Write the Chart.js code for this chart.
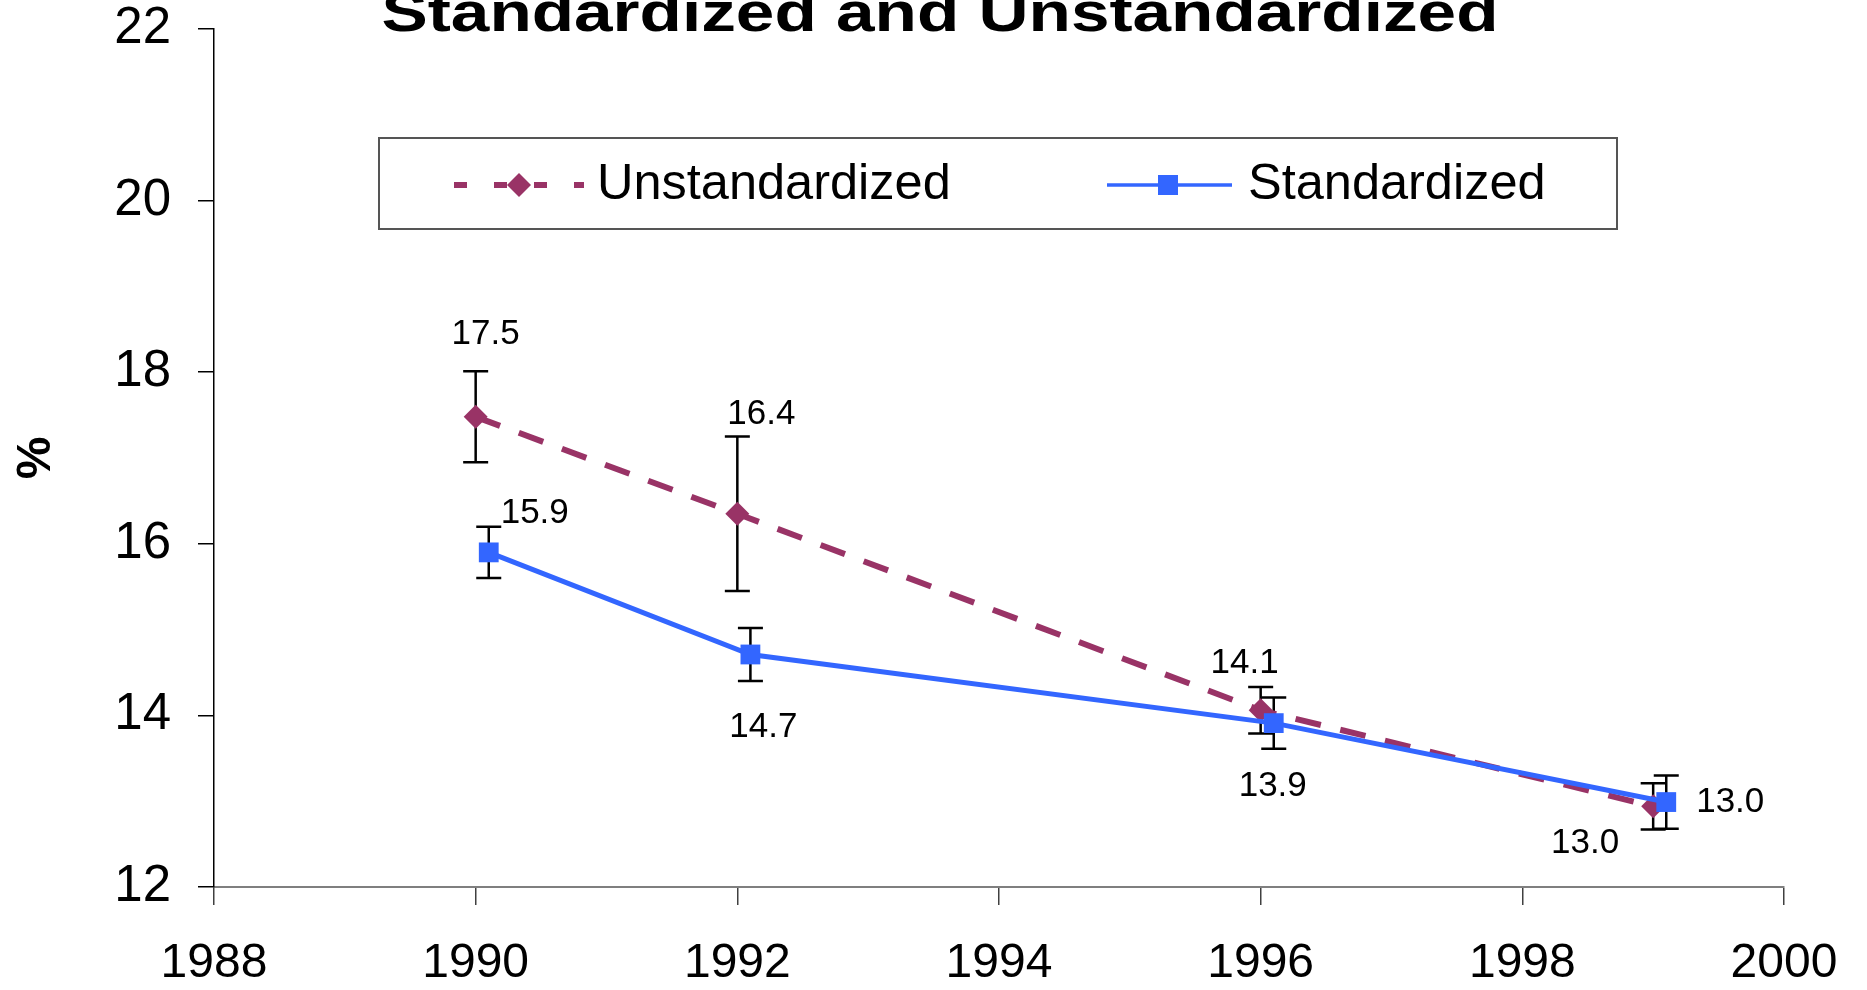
<!DOCTYPE html>
<html lang="en">
<head>
  <meta charset="UTF-8" />
  <title>Standardized and Unstandardized</title>
  <script src="https://cdn.jsdelivr.net/npm/chart.js"></script>
  <style>
    html, body { margin: 0; padding: 0; background: #fff; }
    #wrap { width: 1867px; height: 990px; }
  </style>
</head>
<body>
  <div id="wrap"><canvas id="rateChart" width="1867" height="990"></canvas></div>

  <script>
    // values
    const unstdYears = [1990, 1992, 1996, 1999];
    const unstdValues = [17.48, 16.35, 14.06, 12.94];
    const unstdErrors = [0.53, 0.9, 0.27, 0.27];
    const unstdLabels = ['17.5', '16.4', '14.1', '13.0'];

    const stdYears = [1990.1, 1992.1, 1996.1, 1999.1];
    const stdValues = [15.9, 14.71, 13.91, 12.99];
    const stdErrors = [0.3, 0.31, 0.3, 0.31];
    const stdLabels = ['15.9', '14.7', '13.9', '13.0'];

    const xTicks = [1988, 1990, 1992, 1994, 1996, 1998, 2000];
    const yTicks = [12, 14, 16, 18, 20, 22];

    const FONT = "'Liberation Sans', Arial, sans-serif";
    const UNSTD_COLOR = '#993366';
    const STD_COLOR = '#3366FF';

    // where each data label sits relative to its point (px)
    const unstdLabelOffsets = [[10, -82], [24, -99], [-16, -47], [-68, 37]];
    const stdLabelOffsets = [[46, -39], [13, 73], [-1, 63], [64, 0]];

    const seriesInfo = [
      { years: stdYears, values: stdValues, errors: stdErrors, labels: stdLabels, offsets: stdLabelOffsets },
      { years: unstdYears, values: unstdValues, errors: unstdErrors, labels: unstdLabels, offsets: unstdLabelOffsets }
    ];

    const errorBars = {
      id: 'errorBars',
      beforeDatasetsDraw(chart) {
        const { ctx, scales: { x, y } } = chart;
        ctx.save();
        ctx.strokeStyle = '#000';
        ctx.lineWidth = 2.5;
        seriesInfo.forEach(s => {
          s.years.forEach((yr, i) => {
            const px = x.getPixelForValue(yr);
            const top = y.getPixelForValue(s.values[i] + s.errors[i]);
            const bot = y.getPixelForValue(s.values[i] - s.errors[i]);
            ctx.beginPath();
            ctx.moveTo(px, top); ctx.lineTo(px, bot);
            ctx.moveTo(px - 12.5, top); ctx.lineTo(px + 12.5, top);
            ctx.moveTo(px - 12.5, bot); ctx.lineTo(px + 12.5, bot);
            ctx.stroke();
          });
        });
        ctx.restore();
      }
    };

    const dataLabels = {
      id: 'dataLabels',
      afterDatasetsDraw(chart) {
        const { ctx, scales: { x, y } } = chart;
        ctx.save();
        ctx.fillStyle = '#000';
        ctx.font = `35px ${FONT}`;
        ctx.textAlign = 'center';
        ctx.textBaseline = 'middle';
        seriesInfo.forEach(s => {
          s.years.forEach((yr, i) => {
            const px = x.getPixelForValue(yr) + s.offsets[i][0];
            const py = y.getPixelForValue(s.values[i]) + s.offsets[i][1];
            ctx.fillText(s.labels[i], px, py);
          });
        });
        ctx.restore();
      }
    };

    const titleAndLegend = {
      id: 'titleAndLegend',
      afterDraw(chart) {
        const ctx = chart.ctx;
        ctx.save();

        // title, partly cut off at the top like the original
        ctx.font = `bold 56px ${FONT}`;
        ctx.fillStyle = '#000';
        ctx.textBaseline = 'alphabetic';
        ctx.textAlign = 'center';
        const text = 'Standardized and Unstandardized';
        const sx = 1117 / ctx.measureText(text).width;
        ctx.save();
        ctx.translate(940, 31);
        ctx.scale(sx, 1);
        ctx.fillText(text, 0, 0);
        ctx.restore();

        // legend box
        ctx.strokeStyle = '#555';
        ctx.lineWidth = 2;
        ctx.strokeRect(379, 138, 1238, 91);

        const ly = 185;
        ctx.strokeStyle = UNSTD_COLOR;
        ctx.lineWidth = 6;
        ctx.setLineDash([13, 27]);
        ctx.beginPath(); ctx.moveTo(454, ly); ctx.lineTo(584, ly); ctx.stroke();
        ctx.setLineDash([]);
        ctx.fillStyle = UNSTD_COLOR;
        ctx.beginPath();
        ctx.moveTo(519 - 12, ly); ctx.lineTo(519, ly - 12);
        ctx.lineTo(519 + 12, ly); ctx.lineTo(519, ly + 12);
        ctx.closePath(); ctx.fill();

        ctx.strokeStyle = STD_COLOR;
        ctx.lineWidth = 3.5;
        ctx.beginPath(); ctx.moveTo(1107, ly); ctx.lineTo(1232, ly); ctx.stroke();
        ctx.fillStyle = STD_COLOR;
        ctx.fillRect(1168 - 10, ly - 10, 20, 20);

        ctx.fillStyle = '#000';
        ctx.font = `50.5px ${FONT}`;
        ctx.textAlign = 'left';
        ctx.textBaseline = 'middle';
        ctx.fillText('Unstandardized', 597, ly);
        ctx.fillText('Standardized', 1248, ly);
        ctx.restore();
      }
    };

    const ctx = document.getElementById('rateChart').getContext('2d');
    new Chart(ctx, {
      type: 'line',
      data: {
        datasets: [
          {
            label: 'Standardized',
            data: stdYears.map((yr, i) => ({ x: yr, y: stdValues[i] })),
            borderColor: STD_COLOR,
            backgroundColor: STD_COLOR,
            borderWidth: 5,
            pointStyle: 'rect',
            pointRadius: 14,
            pointBorderWidth: 0,
            tension: 0
          },
          {
            label: 'Unstandardized',
            data: unstdYears.map((yr, i) => ({ x: yr, y: unstdValues[i] })),
            borderColor: UNSTD_COLOR,
            backgroundColor: UNSTD_COLOR,
            borderWidth: 6,
            borderDash: [26, 20],
            pointStyle: 'rectRot',
            pointRadius: 12,
            pointBorderWidth: 0,
            tension: 0
          }
        ]
      },
      options: {
        responsive: false,
        animation: false,
        layout: { padding: { top: 29, right: 83, left: 0, bottom: 0 } },
        plugins: {
          legend: { display: false },
          tooltip: { enabled: false }
        },
        scales: {
          x: {
            type: 'linear',
            min: 1988,
            max: 2000,
            afterBuildTicks: s => { s.ticks = xTicks.map(v => ({ value: v })); },
            afterFit: s => { s.height = 103; s.paddingLeft = 0; s.paddingRight = 0; },
            grid: { drawOnChartArea: false, tickLength: 18, color: '#404040', lineWidth: 1.5 },
            border: { color: '#7f7f7f', width: 2 },
            ticks: {
              color: '#000',
              font: { family: FONT, size: 48 },
              padding: 30,
              maxRotation: 0,
              autoSkip: false,
              callback: v => String(v)
            }
          },
          y: {
            min: 12,
            max: 22,
            afterBuildTicks: s => { s.ticks = yTicks.map(v => ({ value: v })); },
            afterFit: s => { s.width = 214; s.paddingTop = 0; s.paddingBottom = 0; },
            grid: { drawOnChartArea: false, tickLength: 16, color: '#000', lineWidth: 1.5 },
            border: { color: '#000', width: 1.5 },
            ticks: {
              color: '#000',
              font: { family: FONT, size: 51 },
              padding: 27,
              callback: v => String(v)
            },
            title: {
              display: true,
              text: '%',
              color: '#000',
              font: { family: FONT, size: 48, weight: 'bold' },
              padding: { top: 8, bottom: 0 }
            }
          }
        }
      },
      plugins: [errorBars, dataLabels, titleAndLegend]
    });
  </script>
</body>
</html>
